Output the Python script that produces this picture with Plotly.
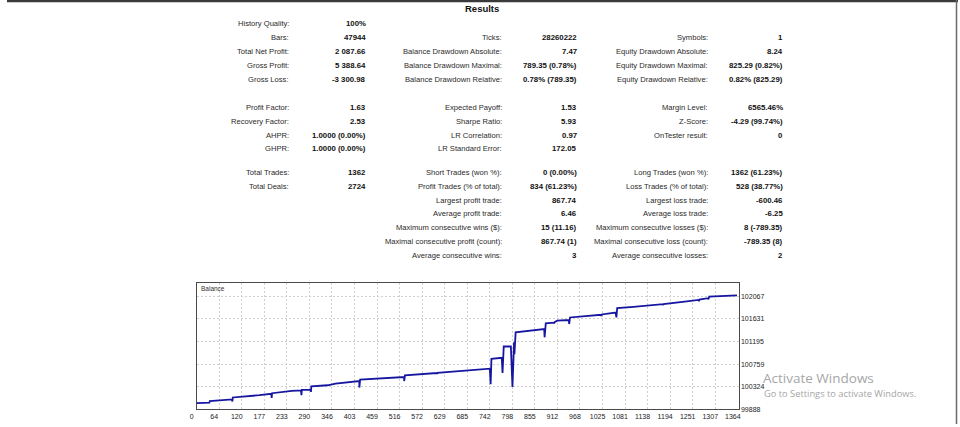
import numpy as np
import plotly.graph_objects as go

# ---------------- data ----------------
col1_labels = ["History Quality:", "Bars:", "Total Net Profit:", "Gross Profit:", "Gross Loss:",
               "Profit Factor:", "Recovery Factor:", "AHPR:", "GHPR:",
               "Total Trades:", "Total Deals:"]
col1_values = ["100%", "47944", "2 087.66", "5 388.64", "-3 300.98",
               "1.63", "2.53", "1.0000 (0.00%)", "1.0000 (0.00%)",
               "1362", "2724"]
col1_rows = [0, 1, 2, 3, 4, 5, 6, 7, 8, 9, 10]

col2_labels = ["Ticks:", "Balance Drawdown Absolute:", "Balance Drawdown Maximal:", "Balance Drawdown Relative:",
               "Expected Payoff:", "Sharpe Ratio:", "LR Correlation:", "LR Standard Error:",
               "Short Trades (won %):", "Profit Trades (% of total):", "Largest profit trade:",
               "Average profit trade:", "Maximum consecutive wins ($):",
               "Maximal consecutive profit (count):", "Average consecutive wins:"]
col2_values = ["28260222", "7.47", "789.35 (0.78%)", "0.78% (789.35)",
               "1.53", "5.93", "0.97", "172.05",
               "0 (0.00%)", "834 (61.23%)", "867.74", "6.46", "15 (11.16)", "867.74 (1)", "3"]
col2_rows = [1, 2, 3, 4, 5, 6, 7, 8, 9, 10, 11, 12, 13, 14, 15]

col3_labels = ["Symbols:", "Equity Drawdown Absolute:", "Equity Drawdown Maximal:", "Equity Drawdown Relative:",
               "Margin Level:", "Z-Score:", "OnTester result:",
               "Long Trades (won %):", "Loss Trades (% of total):", "Largest loss trade:",
               "Average loss trade:", "Maximum consecutive losses ($):",
               "Maximal consecutive loss (count):", "Average consecutive losses:"]
col3_values = ["1", "8.24", "825.29 (0.82%)", "0.82% (825.29)",
               "6565.46%", "-4.29 (99.74%)", "0",
               "1362 (61.23%)", "528 (38.77%)", "-600.46", "-6.25", "8 (-789.35)", "-789.35 (8)", "2"]
col3_rows = [1, 2, 3, 4, 5, 6, 7, 9, 10, 11, 12, 13, 14, 15]

trade_no = [0, 32, 33, 62, 80, 89, 90, 91, 158, 188, 189, 190, 240, 263, 264, 265, 288, 288, 289,
            330, 350, 410, 410, 412, 467, 523, 523, 525, 605, 606, 607, 739, 741, 743, 769, 771,
            774, 792, 796, 798, 799, 800, 801, 802, 804, 876, 877, 880, 900, 901, 902, 909, 938,
            939, 941, 1019, 1020, 1021, 1056, 1058, 1060, 1101, 1175, 1176, 1177, 1230, 1265,
            1266, 1267, 1289, 1290, 1292, 1362]
balance = [100005, 100012, 100042, 100060, 100070, 100075, 100035, 100113, 100157, 100185, 100105,
           100195, 100239, 100250, 100157, 100262, 100266, 100220, 100330, 100349, 100381, 100431,
           100305, 100458, 100477, 100508, 100431, 100541, 100585, 100570, 100590, 100669, 100368,
           100861, 100880, 100585, 101098, 101098, 100316, 101020, 100900, 101180, 100950, 101150,
           101372, 101437, 101276, 101545, 101560, 101545, 101570, 101597, 101610, 101533, 101660,
           101712, 101690, 101718, 101756, 101660, 101840, 101866, 101917, 101900, 101920, 101967,
           102000, 101975, 102005, 102033, 102010, 102063, 102088]

x_tick_labels = ["0", "64", "120", "177", "233", "290", "346", "403", "459", "516", "572", "629",
                 "685", "742", "798", "855", "912", "968", "1025", "1081", "1138", "1194", "1251",
                 "1307", "1364"]
y_tick_labels = [99888, 100324, 100759, 101195, 101631, 102067]

# ---------------- layout constants ----------------
W, H = 960, 427
FONT = "Liberation Sans, Arial, sans-serif"
row_y_px = [24.0, 37.7, 51.7, 66.0, 80.0, 108.3, 122.3, 136.5, 149.5, 173.5, 187.5,
            201.7, 215.2, 229.3, 243.3, 257.3]

def py(p):
    return 1 - p / H

def px(p):
    return p / W

fig = go.Figure()

fig.add_trace(go.Scatter(x=trade_no, y=balance, mode="lines",
                         line=dict(color="#1616a0", width=1.8), hoverinfo="skip",
                         showlegend=False))

annotations = []

def add_col(labels, values, rows, label_right, value_right):
    for lab, val, r in zip(labels, values, rows):
        annotations.append(dict(text=lab, x=px(label_right), y=py(row_y_px[r]), xref="paper", yref="paper",
                                xanchor="right", yanchor="middle", showarrow=False,
                                font=dict(family=FONT, size=7.6, color="#2a2a2a")))
        annotations.append(dict(text="<b>" + val + "</b>", x=px(value_right), y=py(row_y_px[r]),
                                xref="paper", yref="paper", xanchor="right", yanchor="middle",
                                showarrow=False, font=dict(family=FONT, size=7.8, color="#111111")))

add_col(col1_labels, col1_values, col1_rows, 287, 364.5)
add_col(col2_labels, col2_values, col2_rows, 502, 577)
add_col(col3_labels, col3_values, col3_rows, 709.5, 785)

annotations.append(dict(text="<b>Results</b>", x=px(479), y=py(8.3), xref="paper", yref="paper",
                        xanchor="center", yanchor="middle", showarrow=False,
                        font=dict(family=FONT, size=9.5, color="#111111")))
annotations.append(dict(text="Balance", x=px(194), y=py(290.5), xref="paper", yref="paper",
                        xanchor="left", yanchor="middle", showarrow=False,
                        font=dict(family=FONT, size=6.5, color="#333333")))
annotations.append(dict(text="Activate Windows", x=px(761), y=py(381), xref="paper", yref="paper",
                        xanchor="left", yanchor="middle", showarrow=False,
                        font=dict(family="Open Sans, sans-serif", size=13.5, color="#a6a6a6")))
annotations.append(dict(text="Go to Settings to activate Windows.", x=px(762), y=py(396), xref="paper",
                        yref="paper", xanchor="left", yanchor="middle", showarrow=False,
                        font=dict(family="Open Sans, sans-serif", size=9.3, color="#a6a6a6")))

shapes = [
    dict(type="rect", xref="paper", yref="paper", x0=0, x1=1, y0=py(2.2), y1=1,
         fillcolor="#3a3a3a", line=dict(width=0), layer="above"),
    dict(type="line", xref="paper", yref="paper", x0=px(958.5), x1=px(958.5), y0=0, y1=1,
         line=dict(color="#6a6a6a", width=1.5)),
]

x_tickvals = np.linspace(0, float(x_tick_labels[-1]), len(x_tick_labels))

fig.update_layout(
    width=W, height=H, margin=dict(l=0, r=0, t=0, b=0),
    paper_bgcolor="white", plot_bgcolor="white",
    annotations=annotations, shapes=shapes,
    xaxis=dict(domain=[px(191.5), px(738.5)], range=[0, 1366],
               tickvals=x_tickvals, ticktext=x_tick_labels, ticks="",
               showgrid=True, gridcolor="#cfcfcf", griddash="2px,2px", gridwidth=1,
               showline=True, linecolor="#4a4a4a", linewidth=1, mirror=True, zeroline=False,
               tickfont=dict(family=FONT, size=7, color="#222222"), ticklabelshift=-5),
    yaxis=dict(domain=[1 - 412 / H, 1 - 284.7 / H], range=[99888, 102332], side="right",
               tickvals=y_tick_labels, ticktext=[str(v) for v in y_tick_labels], ticks="",
               showgrid=True, gridcolor="#cfcfcf", griddash="2px,2px", gridwidth=1,
               showline=True, linecolor="#4a4a4a", linewidth=1, mirror=True, zeroline=False,
               tickfont=dict(family=FONT, size=7, color="#222222")),
)

fig.write_html("out.html", config={"displayModeBar": False},
               post_script="document.body.style.margin='0';")
